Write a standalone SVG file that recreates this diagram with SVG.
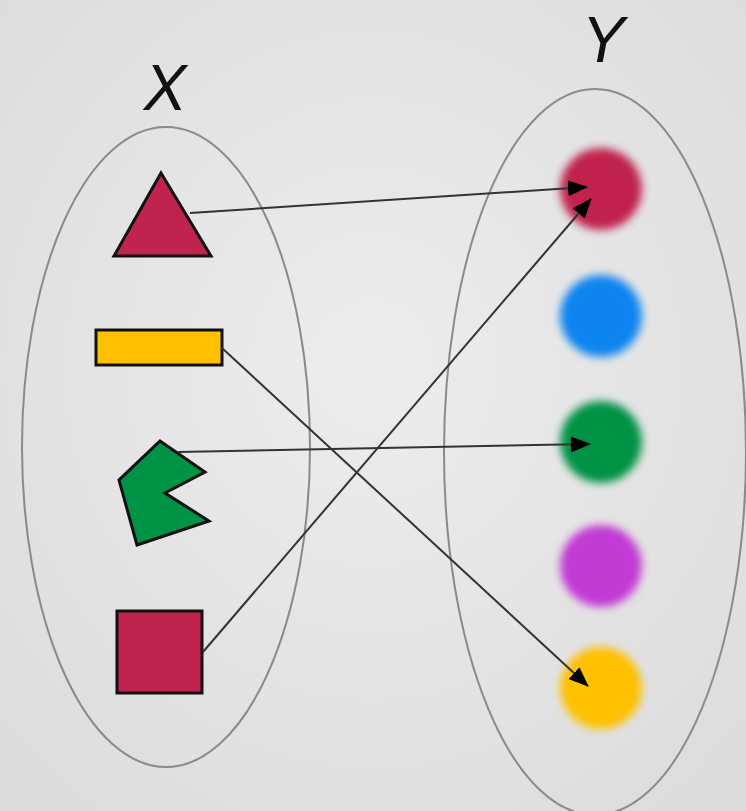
<svg xmlns="http://www.w3.org/2000/svg" width="746" height="811" viewBox="0 0 746 811">
<defs>
<radialGradient id="bg" cx="50%" cy="45%" r="70%">
<stop offset="0" stop-color="#ededed"/>
<stop offset="1" stop-color="#dcdcdc"/>
</radialGradient>
<filter id="blur" x="-50%" y="-50%" width="200%" height="200%"><feGaussianBlur stdDeviation="4.5"/></filter>
<marker id="ah" viewBox="0 0 20 16" refX="19" refY="8" markerWidth="20" markerHeight="16" markerUnits="userSpaceOnUse" orient="auto">
<path d="M0,0 L20,8 L0,16 z" fill="#000"/>
</marker>
<style>
.set{fill:none;stroke:#8a8a8a;stroke-width:2}
.shape{stroke:#111;stroke-width:3;stroke-linejoin:miter}
.dot{filter:url(#blur)}
.lbl{font-family:"Liberation Sans",Arial,sans-serif;font-style:italic;font-size:64px;fill:#111}
.conn{stroke:#333;stroke-width:2;fill:none;marker-end:url(#ah)}
</style>
</defs>
<rect width="746" height="811" fill="url(#bg)"/>
<g id="set-x"><ellipse class="set" cx="166" cy="447" rx="144" ry="320"/><text class="lbl" x="165" y="110" text-anchor="middle">X</text></g>
<g id="set-y"><ellipse class="set" cx="595" cy="452" rx="151" ry="363"/><text class="lbl" x="603" y="62" text-anchor="middle">Y</text></g>
<g id="triangle"><polygon class="shape" fill="#c0234e" points="161,173 211,256 114,256"/></g>
<g id="rectangle"><rect class="shape" fill="#ffc000" x="96" y="330" width="126" height="35"/></g>
<g id="pentagon"><polygon class="shape" fill="#009245" points="160,441 205,472 165,493 209,521 137,545 119,480"/></g>
<g id="square"><rect class="shape" fill="#c0234e" x="117" y="611" width="85" height="82"/></g>
<g id="dot-red"><circle class="dot" cx="601" cy="189" r="41" fill="#c0234e"/></g>
<g id="dot-blue"><circle class="dot" cx="601" cy="316" r="41" fill="#0a84f0"/></g>
<g id="dot-green"><circle class="dot" cx="601" cy="442" r="41" fill="#009245"/></g>
<g id="dot-purple"><circle class="dot" cx="601" cy="566" r="41" fill="#c23bd4"/></g>
<g id="dot-yellow"><circle class="dot" cx="601" cy="688" r="41" fill="#ffc000"/></g>
<g id="connectors">
<line class="conn" x1="190" y1="213" x2="587" y2="187"/>
<line class="conn" x1="203" y1="652" x2="591" y2="199"/>
<line class="conn" x1="222" y1="348" x2="588" y2="686"/>
<line class="conn" x1="178" y1="452" x2="590" y2="444"/>
</g>
</svg>
